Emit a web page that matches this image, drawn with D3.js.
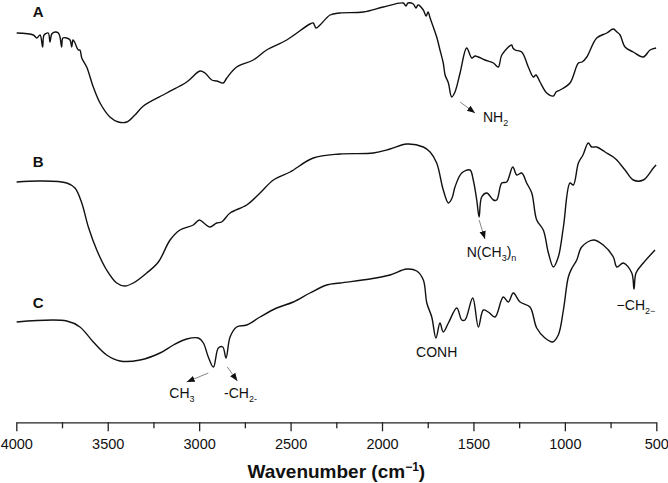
<!DOCTYPE html>
<html>
<head>
<meta charset="utf-8">
<script src="https://cdn.jsdelivr.net/npm/d3@7"></script>
<style>
body { margin: 0; background: #fff; }
svg { display: block; font-family: "Liberation Sans", Arial, sans-serif; }
</style>
</head>
<body>
<script>
// FTIR spectra, [wavenumber cm-1, transmittance a.u. (stacked)]
var spectrumA = [[3998,389],[3907,387],[3888,384],[3870,387],[3856,375],[3848,387],[3825,389],[3816,380],[3806,388],
  [3788,390],[3770,389],[3761,385],[3752,375],[3745,384],[3724,384],[3706,382],[3697,375],[3690,382],[3679,379],
  [3661,372],[3652,372],[3642,364],[3615,355],[3579,335],[3542,319],[3488,305],[3442,300],[3396,300],[3351,307],
  [3305,316],[3177,329],[3068,340],[2995,351],[2968,349],[2931,342],[2904,341],[2868,339],[2849,344],[2795,355],
  [2704,362],[2631,372],[2521,382],[2394,398],[2376,399],[2361,394],[2339,397],[2284,407],[2230,409],[2102,410],
  [1993,415],[1884,419],[1869,416],[1858,419],[1829,418],[1814,414],[1803,417],[1774,412],[1759,406],[1748,410],
  [1737,404],[1701,385],[1683,372],[1665,359],[1655,347],[1637,339],[1619,325],[1601,330],[1573,349],[1537,374],
  [1509,364],[1491,366],[1473,365],[1437,362],[1391,359],[1364,355],[1345,367],[1291,377],[1284,374],[1272,372],
  [1236,370],[1200,355],[1172,345],[1158,347],[1136,340],[1099,329],[1063,326],[1048,330],[1026,332],[972,339],
  [926,359],[906,360],[880,365],[826,384],[771,389],[735,393],[715,390],[698,387],[671,375],[626,370],[571,365],
  [534,372],[501,374]];

var spectrumB = [[3998,240],[3870,241],[3724,239],[3679,234],[3642,219],[3606,195],[3560,172],[3506,152],[3451,139],
  [3406,136],[3360,139],[3287,149],[3223,160],[3159,182],[3105,192],[3032,197],[2999,202],[2968,198],[2941,195],
  [2904,199],[2877,200],[2831,209],[2740,217],[2667,229],[2594,242],[2503,250],[2376,264],[2230,268],[2047,269],
  [1956,273],[1865,278],[1774,275],[1737,270],[1701,259],[1665,232],[1637,219],[1617,224],[1601,235],[1564,249],
  [1519,252],[1501,242],[1482,222],[1469,205],[1455,225],[1427,229],[1391,222],[1373,222],[1345,239],[1318,240],
  [1285,255],[1263,247],[1236,249],[1209,239],[1181,229],[1154,202],[1118,192],[1090,169],[1063,155],[1036,165],
  [1008,195],[972,239],[954,237],[926,259],[901,267],[872,279],[853,275],[826,275],[780,270],[735,265],[716,262],
  [671,252],[626,242],[571,242],[516,254],[501,257]];

var spectrumC = [[3998,100],[3724,101],[3652,95],[3579,80],[3506,67],[3433,61],[3323,62],[3214,69],[3141,77],
  [3068,83],[3004,84],[2977,79],[2950,65],[2922,55],[2895,74],[2871,75],[2853,64],[2831,85],[2795,95],[2740,97],
  [2667,105],[2576,114],[2485,120],[2394,129],[2302,137],[2230,139],[2066,143],[1956,147],[1865,153],[1810,151],
  [1774,142],[1755,119],[1728,105],[1705,84],[1683,99],[1665,90],[1637,99],[1591,114],[1564,102],[1546,102],
  [1504,124],[1473,95],[1446,112],[1419,110],[1382,105],[1337,125],[1309,120],[1282,129],[1245,120],[1191,115],
  [1154,94],[1109,84],[1067,80],[1036,87],[1008,112],[981,145],[961,154],[935,162],[908,175],[844,182],[790,177],
  [735,165],[716,155],[680,159],[634,149],[622,133],[611,149],[571,159],[507,172]];

var majorTicks = [4000, 3500, 3000, 2500, 2000, 1500, 1000, 500];
var minorTicks = [3750, 3250, 2750, 2250, 1750, 1250, 750];

var curveLabels = [["A", 3910, 405], ["B", 3910, 255], ["C", 3910, 114]];

// peak assignments
var peakArrows = [[1573, 320, 1491, 309], [1469, 202, 1437, 183], [2950, 49, 3068, 40], [2846, 55, 2791, 41]];
var peakTexts = [
  [[["NH", 0], ["2", 1]], 1448, 300],
  [[["N(CH", 0], ["3", 1], [")", 0], ["n", 1]], 1537, 165],
  [[["\u2212CH", 0], ["2\u2212", 1]], 717, 112],
  [[["CONH", 0]], 1814, 65],
  [[["CH", 0], ["3", 1]], 3163, 24],
  [[["-CH", 0], ["2-", 1]], 2864, 24]
];

var width = 668, height = 483;
var svg = d3.select("body").append("svg").attr("width", width).attr("height", height);

var x = d3.scaleLinear().domain([4000, 500]).range([16.3, 656.3]);
var y = d3.scaleLinear().domain([0, 420]).range([422, 2]);
var axisY = 422.3;

var defs = svg.append("defs");
defs.append("marker")
  .attr("id", "head")
  .attr("viewBox", "0 0 10 10")
  .attr("refX", 10).attr("refY", 5)
  .attr("markerWidth", 8).attr("markerHeight", 8)
  .attr("markerUnits", "userSpaceOnUse")
  .attr("orient", "auto")
  .append("path").attr("d", "M0,1 L10,5 L0,9 Z").attr("fill", "#111");

var line = d3.line()
  .curve(d3.curveCatmullRom.alpha(0.5))
  .x(function(d) { return x(d[0]); })
  .y(function(d) { return y(d[1]); });

[spectrumA, spectrumB, spectrumC].forEach(function(s) {
  svg.append("path")
    .datum(s)
    .attr("d", line)
    .attr("fill", "none")
    .attr("stroke", "#111")
    .attr("stroke-width", 1.4)
    .attr("stroke-linejoin", "round");
});

// axis
var gMinor = svg.append("g").attr("transform", "translate(0," + axisY + ")")
  .call(d3.axisBottom(x).tickValues(minorTicks).tickSize(6).tickSizeOuter(0).tickFormat(""));
var gMajor = svg.append("g").attr("transform", "translate(0," + axisY + ")")
  .call(d3.axisBottom(x).tickValues(majorTicks).tickSize(9).tickSizeOuter(0).tickPadding(7).tickFormat(d3.format("d")));
[gMinor, gMajor].forEach(function(g) {
  g.select(".domain").attr("stroke", "#222").attr("stroke-width", 1.3);
  g.selectAll(".tick line").attr("stroke", "#222").attr("stroke-width", 1.3);
});
gMinor.select(".domain").remove();
gMajor.selectAll(".tick text")
  .attr("font-family", "'Liberation Sans', Arial, sans-serif")
  .attr("font-size", 14.5)
  .attr("fill", "#111");

var title = svg.append("text")
  .attr("x", (x(4000) + x(500)) / 2)
  .attr("y", 478)
  .attr("text-anchor", "middle")
  .attr("font-weight", "bold")
  .attr("font-size", 19)
  .attr("fill", "#111");
title.append("tspan").text("Wavenumber (cm");
title.append("tspan").attr("font-size", 12).attr("dy", -7).text("\u22121");
title.append("tspan").attr("dy", 7).text(")");

svg.selectAll(".curve_label")
  .data(curveLabels)
  .enter()
  .append("text")
  .attr("class", "curve_label")
  .attr("x", function(d) { return x(d[1]); })
  .attr("y", function(d) { return y(d[2]); })
  .attr("font-weight", "bold")
  .attr("font-size", 15)
  .attr("fill", "#111")
  .text(function(d) { return d[0]; });

svg.selectAll(".peak_arrow")
  .data(peakArrows)
  .enter()
  .append("line")
  .attr("class", "peak_arrow")
  .attr("x1", function(d) { return x(d[0]); })
  .attr("y1", function(d) { return y(d[1]); })
  .attr("x2", function(d) { return x(d[2]); })
  .attr("y2", function(d) { return y(d[3]); })
  .attr("stroke", "#777")
  .attr("stroke-width", 0.9)
  .attr("marker-end", "url(#head)");

peakTexts.forEach(function(p) {
  var t = svg.append("text")
    .attr("x", x(p[1]))
    .attr("y", y(p[2]))
    .attr("font-size", 14)
    .attr("fill", "#111");
  var sub = 0;
  p[0].forEach(function(part) {
    var dy = part[1] - sub;
    t.append("tspan")
      .attr("dy", dy * 4)
      .attr("font-size", part[1] ? 9 : 14)
      .text(part[0]);
    sub = part[1];
  });
});
</script>
</body>
</html>
